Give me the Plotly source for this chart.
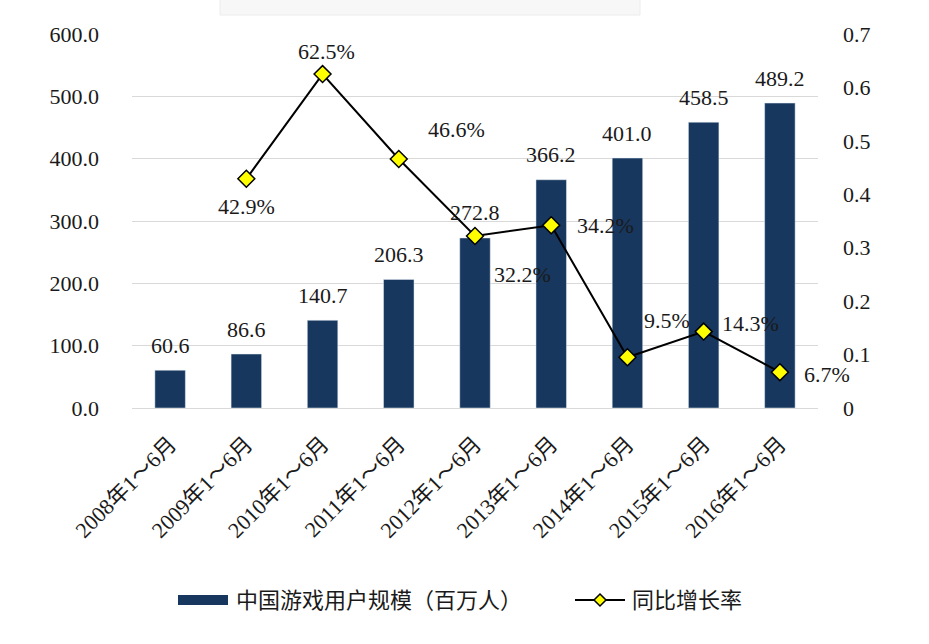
import plotly.graph_objects as go

categories = ["2008年1～6月", "2009年1～6月", "2010年1～6月", "2011年1～6月", "2012年1～6月",
              "2013年1～6月", "2014年1～6月", "2015年1～6月", "2016年1～6月"]
users = [60.6, 86.6, 140.7, 206.3, 272.8, 366.2, 401.0, 458.5, 489.2]
growth_cats = categories[1:]
growth = [0.429, 0.625, 0.466, 0.322, 0.342, 0.095, 0.143, 0.067]
growth_labels = ["42.9%", "62.5%", "46.6%", "32.2%", "34.2%", "9.5%", "14.3%", "6.7%"]
left_ticks = [0, 100, 200, 300, 400, 500, 600]
left_tick_text = ["0.0", "100.0", "200.0", "300.0", "400.0", "500.0", "600.0"]
right_ticks = [0, 0.1, 0.2, 0.3, 0.4, 0.5, 0.6, 0.7]
right_tick_text = ["0", "0.1", "0.2", "0.3", "0.4", "0.5", "0.6", "0.7"]
bar_name = "中国游戏用户规模（百万人）"
line_name = "同比增长率"

FONT = "Liberation Serif, Noto Sans CJK SC, serif"
BAR = "#17375E"
TXT = "#1a1a1a"

W, H = 929, 644
L, R, T, B = 132, 111, 34, 236
PW, PH = W - L - R, H - T - B


def px(x):
    return (x - L) / PW


def py(y):
    return 1 - (y - T) / PH


fig = go.Figure()
fig.add_trace(go.Bar(
    x=categories, y=users, name=bar_name,
    marker=dict(color=BAR), width=0.4, showlegend=False,
))
fig.add_trace(go.Scatter(
    x=growth_cats, y=growth, yaxis="y2", name=line_name, mode="lines+markers",
    line=dict(color="black", width=2),
    marker=dict(symbol="diamond", size=13, color="#FFFF00", line=dict(color="black", width=1.5)),
    cliponaxis=False, showlegend=False,
))

# bar value labels
for c, v in zip(categories, users):
    fig.add_annotation(x=c, y=v, text=f"{v:.1f}", showarrow=False, yanchor="middle",
                       yshift=25, font=dict(family=FONT, size=22, color=TXT))

# growth labels with pixel offsets
offsets = [(0, -28), (4, 23), (58, 30), (47, -39), (54, 0), (40, 37), (47, 8), (47, -2)]
for c, g, t, (dx, dy) in zip(growth_cats, growth, growth_labels, offsets):
    fig.add_annotation(x=c, y=g, yref="y2", text=t, showarrow=False,
                       xshift=dx, yshift=dy, font=dict(family=FONT, size=22, color=TXT))

# faint empty title box
fig.add_shape(type="rect", xref="paper", yref="paper", x0=px(220), x1=px(640),
              y0=py(15), y1=py(-5), fillcolor="#f7f7f7", line=dict(color="#ececec", width=1),
              layer="below")

# custom legend
ly = 600
fig.add_shape(type="rect", xref="paper", yref="paper", x0=px(178), x1=px(228),
              y0=py(ly + 5), y1=py(ly - 5), fillcolor=BAR, line=dict(width=0))
fig.add_annotation(xref="paper", yref="paper", x=px(234), y=py(ly), xanchor="left",
                   yanchor="middle", text=bar_name, showarrow=False,
                   font=dict(family=FONT, size=22, color=TXT))
fig.add_shape(type="line", xref="paper", yref="paper", x0=px(575), x1=px(625),
              y0=py(ly), y1=py(ly), line=dict(color="black", width=2))
fig.add_shape(type="path", xref="paper", yref="paper",
              path=f"M {px(600)} {py(ly-6)} L {px(606)} {py(ly)} L {px(600)} {py(ly+6)} L {px(594)} {py(ly)} Z",
              fillcolor="#FFFF00", line=dict(color="black", width=1.5))
fig.add_annotation(xref="paper", yref="paper", x=px(630), y=py(ly), xanchor="left",
                   yanchor="middle", text=line_name, showarrow=False,
                   font=dict(family=FONT, size=22, color=TXT))

fig.update_layout(
    width=W, height=H,
    margin=dict(l=L, r=R, t=T, b=B, autoexpand=False),
    paper_bgcolor="white", plot_bgcolor="white",
    font=dict(family=FONT, size=20, color=TXT),
    showlegend=False,
    xaxis=dict(range=[-0.5, len(categories) - 0.5], tickangle=-45, tickfont=dict(size=22),
               showgrid=False, showline=False, ticks="", ticklabelstandoff=18, automargin=False),
    yaxis=dict(range=[0, 600], tickvals=left_ticks, ticktext=left_tick_text,
               showgrid=True, gridcolor="#d9d9d9", gridwidth=1.3, zeroline=True,
               zerolinecolor="#d9d9d9", zerolinewidth=1.3, ticklabelstandoff=32,
               tickfont=dict(size=22), automargin=False),
    yaxis2=dict(range=[0, 0.7], tickvals=right_ticks, ticktext=right_tick_text,
                overlaying="y", side="right", showgrid=False, zeroline=False,
                ticklabelstandoff=24, tickfont=dict(size=22), automargin=False),
)

fig.write_html("out.html", post_script="document.body.style.margin='0';",
               config={"displayModeBar": False})
